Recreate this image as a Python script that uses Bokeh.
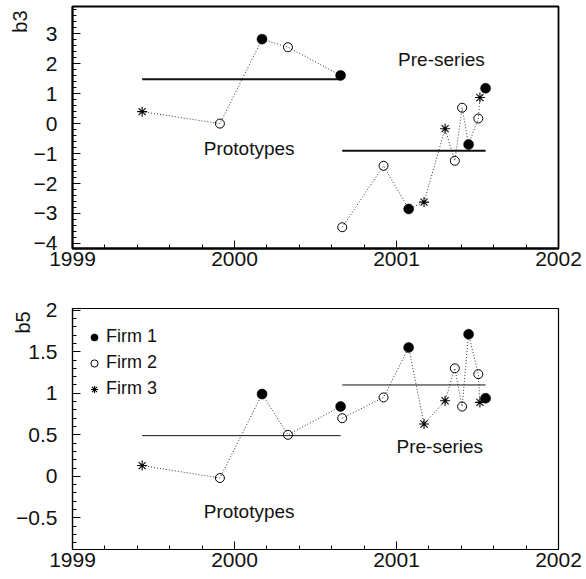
import numpy as np
from bokeh.plotting import figure
from bokeh.layouts import column
from bokeh.models import (Range1d, SingleIntervalTicker, CustomJSTickFormatter,
                          Label, Legend, LegendItem, LinearAxis, Title)
from bokeh.embed import file_html
from bokeh.resources import INLINE

# ---- data (decimal year of measurement, firm, phase) ----
dates = [1999.43, 1999.91, 2000.17, 2000.33, 2000.655,
         2000.665, 2000.92, 2001.075, 2001.17, 2001.30, 2001.36,
         2001.405, 2001.445, 2001.505, 2001.515, 2001.55]
firms = [3, 2, 1, 2, 1,
         2, 2, 1, 3, 3, 2, 2, 1, 2, 3, 1]
phase = ["Prototypes"] * 5 + ["Pre-series"] * 11
b3 = [0.40, 0.00, 2.82, 2.55, 1.61,
      -3.46, -1.41, -2.85, -2.62, -0.17, -1.24, 0.53, -0.70, 0.17, 0.87, 1.18]
b5 = [0.13, -0.02, 0.99, 0.50, 0.84,
      0.70, 0.95, 1.55, 0.63, 0.91, 1.30, 0.84, 1.71, 1.23, 0.89, 0.94]
phases = ["Prototypes", "Pre-series"]
b3_mean = [1.48, -0.91]
b5_mean = [0.49, 1.10]
firm_names = ["Firm 1", "Firm 2", "Firm 3"]

FONT = "Liberation Sans"
INK = "#111111"
NBSP = "\u00a0"

dates_a = np.array(dates)
firms_a = np.array(firms)
phase_a = np.array(phase)

fmt = CustomJSTickFormatter(code="""
    var s = String(Math.round(Math.abs(tick)*1000)/1000);
    return tick < 0 ? "\\u2212" + s : s;
""")

HAS_ALIGN = "axis_label_align" in LinearAxis.properties()


def set_label_align(ax):
    for v in ("end", "right"):
        try:
            ax.axis_label_align = v
            return True
        except Exception:
            continue
    return False


def make_panel(vals, means, ylo, yhi, yint, height, btop, bbot, ylabel, label_mode,
               lab_standoff, lw_mean, lw_frame, text_pos, legend=False):
    vals_a = np.array(vals)
    p = figure(width=586, height=height, output_backend="svg", toolbar_location=None,
               x_range=Range1d(1999, 2002), y_range=Range1d(ylo, yhi),
               min_border_left=72, min_border_right=28,
               min_border_top=btop, min_border_bottom=bbot)
    p.grid.visible = False
    p.outline_line_color = "black"
    p.outline_line_width = lw_frame
    p.background_fill_color = "white"
    p.border_fill_color = "white"

    p.xaxis.ticker = SingleIntervalTicker(interval=1, num_minor_ticks=5)
    p.yaxis.ticker = SingleIntervalTicker(interval=yint, num_minor_ticks=5)
    for ax in (p.xaxis[0], p.yaxis[0]):
        ax.formatter = fmt
        ax.major_tick_in = 8
        ax.major_tick_out = 0
        ax.minor_tick_in = 4
        ax.minor_tick_out = 0
        ax.axis_line_color = "black"
        ax.axis_line_width = lw_frame
        ax.major_tick_line_color = "black"
        ax.minor_tick_line_color = "black"
        ax.major_label_text_font = FONT
        ax.major_label_text_font_size = "21px"
        ax.major_label_text_color = INK
    p.xaxis.major_label_standoff = 3
    p.yaxis.major_label_standoff = 15

    ya = p.yaxis[0]
    if label_mode == "title":
        # vertical title at the top end of the left side
        p.add_layout(Title(text=ylabel, align="right", offset=4, standoff=0,
                           text_font=FONT, text_font_size="20px",
                           text_font_style="normal", text_color=INK), "left")
    else:
        ya.axis_label_text_font = FONT
        ya.axis_label_text_font_size = "20px"
        ya.axis_label_text_font_style = "normal"
        ya.axis_label_text_color = INK
        if HAS_ALIGN and set_label_align(ya):
            ya.axis_label = ylabel + NBSP * 5
            ya.axis_label_standoff = lab_standoff
        else:
            ya.axis_label = ylabel
            ya.axis_label_standoff = 2

    # dotted connecting lines and mean segments per phase
    for ph, m in zip(phases, means):
        mask = phase_a == ph
        xs = dates_a[mask]
        ys = vals_a[mask]
        order = np.argsort(xs)
        p.line(xs[order], ys[order], line_color="#333333", line_width=1,
               line_dash="1 2")
        p.line([xs.min(), xs.max()], [m, m], line_color="#111111",
               line_width=lw_mean)

    mk = firms_a == 1
    r1 = p.scatter(dates_a[mk], vals_a[mk], marker="circle", size=10,
                   fill_color="black", line_color="black", line_width=0.5)
    mk = firms_a == 2
    r2 = p.scatter(dates_a[mk], vals_a[mk], marker="circle", size=9,
                   fill_alpha=0, line_color="black", line_width=1)
    mk = firms_a == 3
    r3 = p.scatter(dates_a[mk], vals_a[mk], marker="asterisk", size=10,
                   line_color="black", line_width=1.1)
    renderers = [r1, r2, r3]

    for txt, (tx, ty) in zip(phases, text_pos):
        p.add_layout(Label(x=tx, y=ty, text=txt, text_font=FONT,
                           text_font_size="19px", text_color=INK,
                           text_align="left", text_baseline="middle"))

    if legend:
        items = [LegendItem(label=n, renderers=[r]) for n, r in zip(firm_names, renderers)]
        leg = Legend(items=items, location=(13, 150))
        leg.border_line_color = None
        leg.background_fill_alpha = 0
        leg.padding = 0
        leg.margin = 0
        leg.glyph_width = 18
        leg.glyph_height = 20
        leg.label_height = 20
        leg.spacing = 5
        leg.label_standoff = 3
        leg.label_text_font = FONT
        leg.label_text_font_size = "18px"
        leg.label_text_color = INK
        leg.label_text_baseline = "middle"
        p.add_layout(leg)
    return p


p1 = make_panel(b3, b3_mean, -4.17, 3.91, 1, 282, 6, 34, "b3", "title", 0, 2, 1.8,
                [(1999.81, -0.84), (2001.01, 2.15)])
p2 = make_panel(b5, b5_mean, -0.88, 2.02, 0.5, 297, 26, 30, "b5", "axis", -21, 1, 1.2,
                [(1999.81, -0.42), (2001.0, 0.36)], legend=True)

layout = column(p1, p2, spacing=0)
open("out.html", "w").write(file_html(layout, INLINE))
